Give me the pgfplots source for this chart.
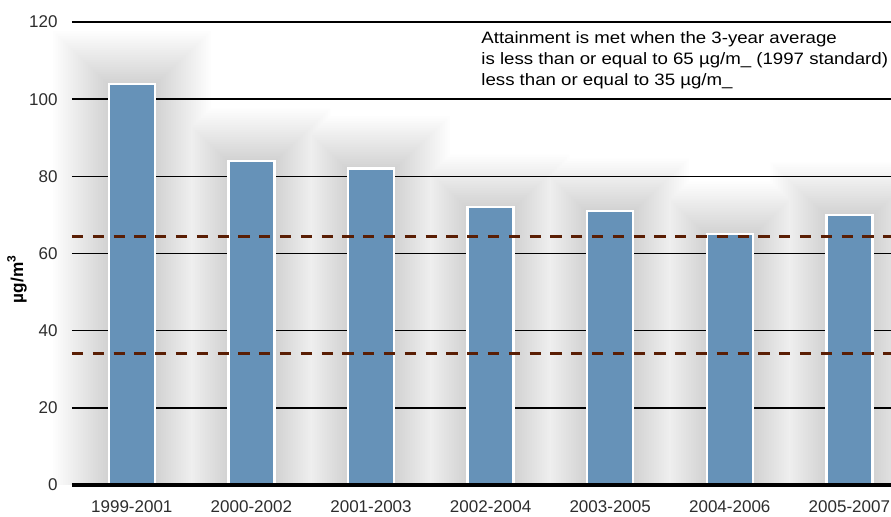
\documentclass[border=0pt]{standalone}
\usepackage{pgfplots}
\pgfplotsset{compat=1.18}
\usepackage{pgfplotstable}
\usepackage{fontspec}
\setmainfont{Liberation Sans}
\newfontfamily\notefont[FakeStretch=1.13]{Liberation Sans}

\definecolor{barblue}{RGB}{102,146,184}
\definecolor{limitbrown}{RGB}{90,30,4}
\definecolor{ticktext}{RGB}{45,45,45}

% three-year averages of PM2.5
\pgfplotstableread{
x v
0 104
1 84
2 82
3 72
4 71
5 65
6 70
}\pmdata

% attainment limits
\pgfplotstableread{
x v
-0.5 64.3
6.5 64.3
}\limitold
\pgfplotstableread{
x v
-0.5 34.2
6.5 34.2
}\limitnew

\begin{document}
\begin{tikzpicture}
\begin{axis}[
  at={(0,0)}, anchor=south west,
  scale only axis,
  width=418.6pt, height=231.5pt,
  xmin=-0.5, xmax=6.5,
  ymin=0, ymax=120,
  axis line style={draw=none},
  clip=false,
  ytick={0,20,...,120},
  xtick={0,...,6},
  xticklabels={1999-2001,2000-2002,2001-2003,2002-2004,2003-2005,2004-2006,2005-2007},
  /pgf/number format/assume math mode=true,
  tick style={draw=none},
  ymajorgrids,
  major grid style={black, line width=0.7pt},
  ticklabel style={font=\fontsize{8.5pt}{10pt}\selectfont, text=ticktext},
  yticklabel style={anchor=east, inner sep=0pt, xshift=-7pt},
  xticklabel style={anchor=north, inner sep=0pt, yshift=-7.5pt},
  ylabel={µg/m\textsuperscript{3}},
  ylabel style={at={(axis description cs:0,0.445)}, anchor=center, yshift=27.5pt,
    inner sep=0pt, font=\bfseries\fontsize{8.6pt}{9pt}\selectfont},
]
% soft glow behind each bar
\pgfplotsinvokeforeach{1,...,22}{
  \addplot[ybar, bar shift=0pt, bar width={24pt+#1*2.5pt}, fill=black,
    fill opacity=0.009, draw=none, forget plot]
    table[x=x, y expr=\thisrow{v}+#1*0.62] \pmdata;
}
% bars
\addplot[ybar, bar shift=0pt, bar width=23pt, fill=barblue, draw=white,
  line width=1.2pt, forget plot] table[x=x, y=v] \pmdata;
% zero line
\addplot[black, line width=2pt, forget plot] coordinates {(-0.5,0) (6.5,0)};
% standards
\addplot[limitbrown, line width=1.5pt, dash pattern=on 5.6pt off 4.8pt, forget plot]
  table[x=x, y=v] \limitold;
\addplot[limitbrown, line width=1.5pt, dash pattern=on 5.6pt off 4.8pt, forget plot]
  table[x=x, y=v] \limitnew;
\node[anchor=north west, inner sep=0pt, align=left,
  font=\notefont\fontsize{8.25pt}{10.5pt}\selectfont]
  at (axis cs:2.92,117.7)
  {Attainment is met when the 3-year average\\
   is less than or equal to 65 µg/m\_ (1997 standard)\\
   less than or equal to 35 µg/m\_};
\end{axis}
\pgfresetboundingbox
\useasboundingbox (-36pt,-15.5pt) rectangle (409.5pt,242.5pt);
\end{tikzpicture}
\end{document}
